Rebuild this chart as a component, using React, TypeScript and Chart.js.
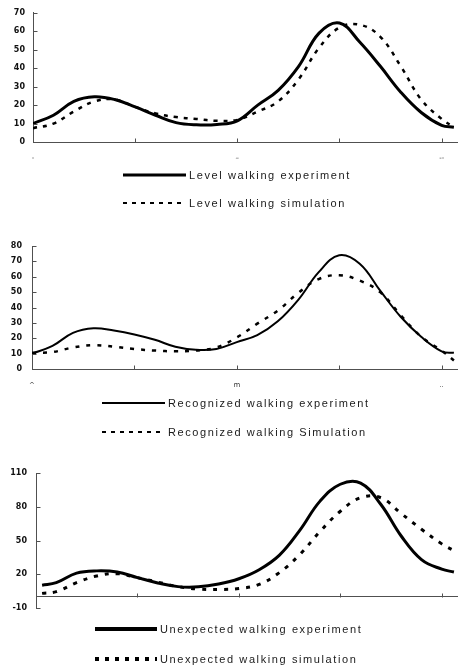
import { useEffect, useRef } from "react";
import { Chart, registerables } from "chart.js";

Chart.register(...registerables);

// ---- data ----
const percent = [0, 5, 10, 15, 20, 25, 30, 35, 40, 45, 50, 55, 60, 65, 70, 75, 80, 85, 90, 95, 100, 103];
const unexpectedPercent = [1.5, 5, 10, 15, 20, 25, 30, 35, 40, 45, 50, 55, 60, 65, 70, 75, 80, 85, 90, 95, 100, 103];

const levelExperiment = [10, 14.5, 22, 24.5, 23, 19, 14.5, 10.5, 9.3, 9.5, 11.5, 20, 28, 41, 59, 64.5, 54, 41, 27, 16, 9, 8];
const levelSimulation = [7.5, 10, 16.5, 22, 23, 19, 15.5, 13.5, 12.5, 11.5, 12, 16.5, 22, 34, 51, 62, 63.5, 57, 41, 23, 12.5, 8];

const recognizedExperiment = [10, 15, 23.5, 26.5, 25, 22.5, 19, 14.5, 12.5, 13, 17.5, 22, 31, 45, 63, 74, 68.5, 51, 34, 21, 11.5, 10.5];
const recognizedSimulation = [10.5, 11, 14, 15.5, 14.5, 13, 12, 11.5, 12, 14, 20.5, 29.5, 38, 49.5, 58.5, 61, 57.5, 50, 35, 21, 12, 5.5];

const unexpectedExperiment = [10.3, 12.5, 21, 23, 22, 17, 12.3, 9, 8.8, 11.3, 16, 24, 37, 59, 85, 100, 101, 82, 54, 33, 24.5, 22];
const unexpectedSimulation = [3, 4.5, 12.5, 18.5, 20.5, 17, 13, 9, 6.8, 6.5, 7.3, 11, 21.5, 37.5, 58, 76, 88, 88, 74, 60, 47, 41];

const levelYTicks = [0, 10, 20, 30, 40, 50, 60, 70];
const recognizedYTicks = [0, 10, 20, 30, 40, 50, 60, 70, 80];
const unexpectedYTicks = [-10, 20, 50, 80, 110];

const xTickValues = [0, 25, 50, 75, 100];
const xLabelValues = [0, 50, 100];
const levelXLabels = ["-", "\u2013", "--"];
const recognizedXLabels = ["^", "m", ".."];

const levelLabels = ["Level walking experiment", "Level walking simulation"];
const recognizedLabels = ["Recognized walking experiment", "Recognized walking Simulation"];
const unexpectedLabels = ["Unexpected walking experiment", "Unexpected walking simulation"];

type Spec = {
  top: number;
  height: number;
  x: number[];
  exp: number[];
  sim: number[];
  labels: string[];
  yMin: number;
  yMax: number;
  yTicks: number[];
  xLabels: string[] | null;
  yWidth: number;
  yPad: number;
  padTop: number;
  padBottom: number;
  expWidth: number;
  simWidth: number;
  simDash: number[];
  legend: { x0: number; x1: number; tx: number; y1: number; y2: number; expW: number; simW: number; simDash: number[] };
};

const specs: Spec[] = [
  {
    top: 0, height: 220, x: percent, exp: levelExperiment, sim: levelSimulation, labels: levelLabels,
    yMin: 0, yMax: 70, yTicks: levelYTicks, xLabels: levelXLabels,
    yWidth: 33, yPad: 8, padTop: 12, padBottom: 78,
    expWidth: 3, simWidth: 2.5, simDash: [4, 6],
    legend: { x0: 123, x1: 186, tx: 189, y1: 175, y2: 203, expW: 3, simW: 2, simDash: [4, 5] },
  },
  {
    top: 225, height: 215, x: percent, exp: recognizedExperiment, sim: recognizedSimulation, labels: recognizedLabels,
    yMin: 0, yMax: 80, yTicks: recognizedYTicks, xLabels: recognizedXLabels,
    yWidth: 32, yPad: 10, padTop: 21, padBottom: 71,
    expWidth: 2, simWidth: 2.5, simDash: [4, 7],
    legend: { x0: 102, x1: 165, tx: 168, y1: 178, y2: 207, expW: 2, simW: 2, simDash: [4, 5] },
  },
  {
    top: 440, height: 225, x: unexpectedPercent, exp: unexpectedExperiment, sim: unexpectedSimulation, labels: unexpectedLabels,
    yMin: -10, yMax: 110, yTicks: unexpectedYTicks, xLabels: null,
    yWidth: 36, yPad: 9, padTop: 33, padBottom: 57,
    expWidth: 3, simWidth: 3, simDash: [4, 7],
    legend: { x0: 95, x1: 157, tx: 160, y1: 189, y2: 219, expW: 4, simW: 4, simDash: [4, 6] },
  },
];

const AXIS = "#505050";

function LineChart({ spec }: { spec: Spec }) {
  const ref = useRef<HTMLCanvasElement>(null);
  useEffect(() => {
    const canvas = ref.current;
    if (!canvas) return;

    const tickPlugin = {
      id: "innerTicks",
      afterDraw(chart: any) {
        const { ctx, chartArea } = chart;
        const xs = chart.scales.x;
        const ys = chart.scales.y;
        const y0 = Math.round(ys.getPixelForValue(0)) + 0.5;
        const left = Math.round(chartArea.left) + 0.5;
        ctx.save();
        ctx.strokeStyle = AXIS;
        ctx.lineWidth = 1;
        ctx.beginPath();
        for (const v of xTickValues) {
          if (v === 0) continue;
          const px = Math.round(xs.getPixelForValue(v)) + 0.5;
          ctx.moveTo(px, y0);
          ctx.lineTo(px, y0 - 4);
        }
        for (const v of spec.yTicks) {
          const py = Math.round(ys.getPixelForValue(v)) + 0.5;
          ctx.moveTo(left, py);
          ctx.lineTo(left + 4, py);
        }
        ctx.stroke();
        ctx.restore();
      },
    };

    const legendPlugin = {
      id: "customLegend",
      afterDraw(chart: any) {
        const { ctx } = chart;
        const L = spec.legend;
        const rows = [
          { y: L.y1, w: L.expW, dash: [] as number[], text: spec.labels[0] },
          { y: L.y2, w: L.simW, dash: L.simDash, text: spec.labels[1] },
        ];
        ctx.save();
        for (const r of rows) {
          ctx.beginPath();
          ctx.strokeStyle = "#000";
          ctx.lineWidth = r.w;
          ctx.lineCap = "butt";
          ctx.setLineDash(r.dash);
          ctx.moveTo(L.x0, r.y);
          ctx.lineTo(L.x1, r.y);
          ctx.stroke();
          ctx.setLineDash([]);
          ctx.fillStyle = "#1a1a1a";
          ctx.font = "11px 'Liberation Sans', Arial, sans-serif";
          (ctx as any).letterSpacing = "1.6px";
          ctx.textAlign = "left";
          ctx.textBaseline = "middle";
          ctx.fillText(r.text, L.tx, r.y + 0.5);
          (ctx as any).letterSpacing = "0px";
        }
        ctx.restore();
      },
    };

    const chart = new Chart(canvas, {
      type: "line",
      data: {
        datasets: [
          {
            label: spec.labels[0],
            data: spec.x.map((xv, i) => ({ x: xv, y: spec.exp[i] })),
            borderColor: "#000",
            borderWidth: spec.expWidth,
            pointRadius: 0,
            tension: 0.4,
            fill: false,
          },
          {
            label: spec.labels[1],
            data: spec.x.map((xv, i) => ({ x: xv, y: spec.sim[i] })),
            borderColor: "#000",
            borderWidth: spec.simWidth,
            borderDash: spec.simDash,
            borderCapStyle: "butt",
            pointRadius: 0,
            tension: 0.4,
            fill: false,
          },
        ],
      },
      options: {
        responsive: false,
        animation: false,
        events: [],
        layout: { padding: { top: spec.padTop, bottom: spec.padBottom, left: 0, right: 0 } },
        plugins: { legend: { display: false }, tooltip: { enabled: false }, title: { display: false } },
        scales: {
          x: {
            type: "linear",
            position: { y: 0 } as any,
            min: 0,
            max: 104,
            afterBuildTicks: (s: any) => {
              s.ticks = xTickValues.map((v) => ({ value: v }));
            },
            grid: { display: false, drawTicks: false },
            border: { display: true, color: AXIS, width: 1 },
            ticks: {
              display: !!spec.xLabels,
              autoSkip: false,
              maxRotation: 0,
              padding: 12,
              color: "#333",
              font: { size: 7, family: "'DejaVu Sans', sans-serif" },
              callback: (value: any) => {
                const i = xLabelValues.indexOf(Number(value));
                return i >= 0 && spec.xLabels ? spec.xLabels[i] : "";
              },
            },
          },
          y: {
            type: "linear",
            min: spec.yMin,
            max: spec.yMax,
            afterBuildTicks: (s: any) => {
              s.ticks = spec.yTicks.map((v) => ({ value: v }));
            },
            afterFit: (s: any) => {
              s.width = spec.yWidth;
            },
            grid: { display: false, drawTicks: false },
            border: { display: true, color: AXIS, width: 1 },
            ticks: {
              autoSkip: false,
              padding: spec.yPad,
              color: "#111",
              font: { size: 8, weight: "bold", family: "'DejaVu Sans', sans-serif" },
            },
          },
        },
      },
      plugins: [tickPlugin, legendPlugin],
    } as any);
    return () => chart.destroy();
  }, [spec]);
  return (
    <canvas
      ref={ref}
      width={458}
      height={spec.height}
      style={{ position: "absolute", left: 0, top: spec.top, width: 458, height: spec.height }}
    />
  );
}

export default function App() {
  return (
    <div style={{ position: "absolute", left: 0, top: 0, width: 458, height: 665, background: "#fff", overflow: "hidden" }}>
      {specs.map((s, i) => (
        <LineChart key={i} spec={s} />
      ))}
    </div>
  );
}
